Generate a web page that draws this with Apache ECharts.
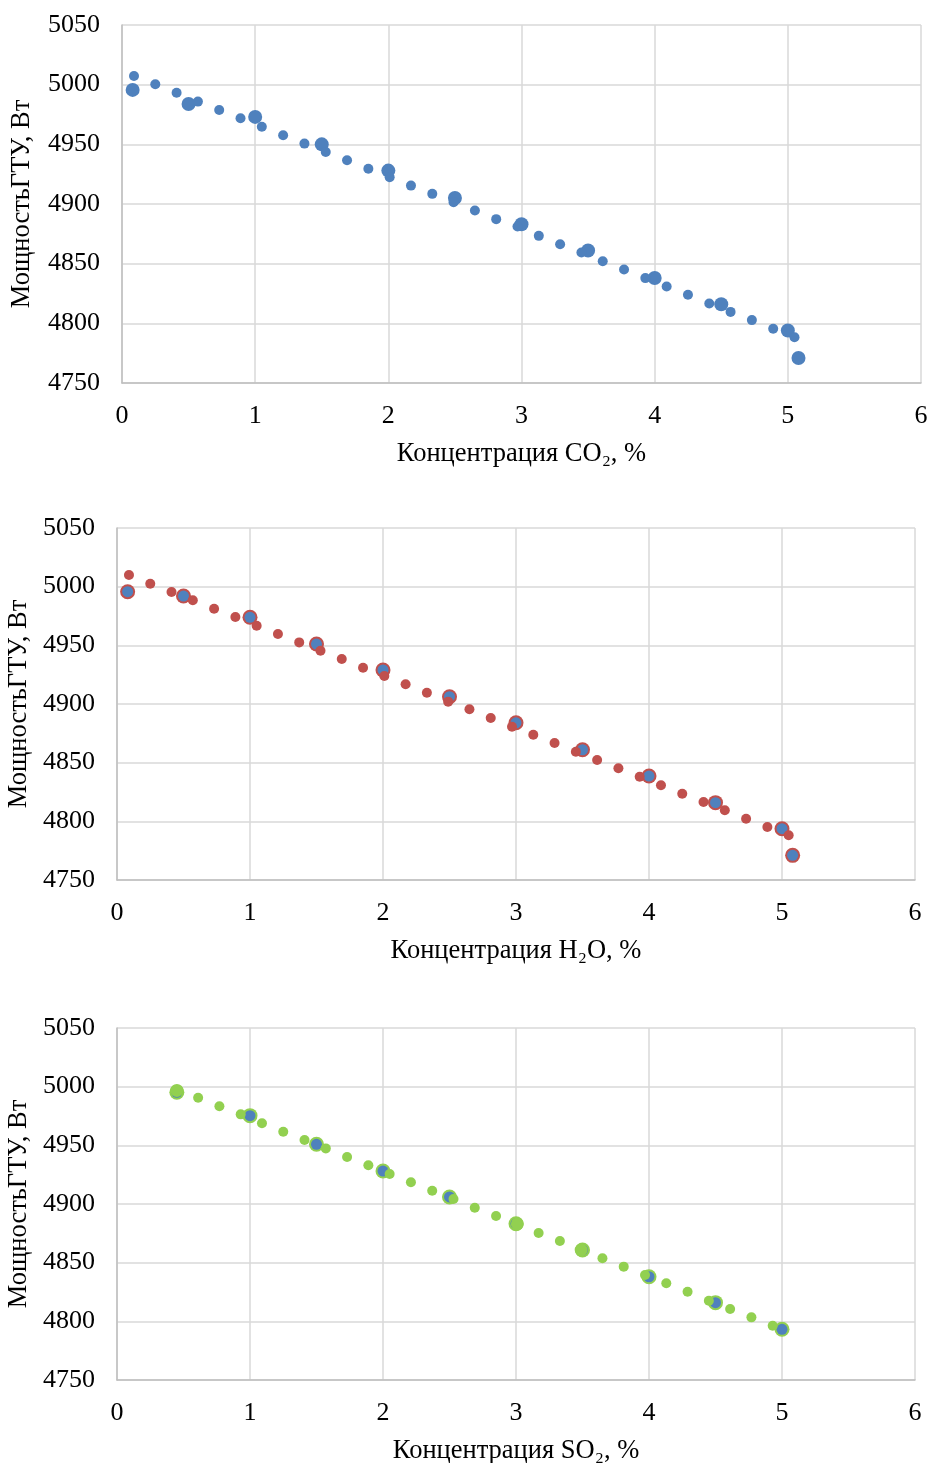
<!DOCTYPE html>
<html>
<head>
<meta charset="utf-8">
<script src="https://cdn.jsdelivr.net/npm/echarts@6/dist/echarts.min.js"></script>
<style>
  html, body { margin: 0; padding: 0; background: #fff; }
  #chart { width: 928px; height: 1463px; }
</style>
</head>
<body>
<div id="chart"></div>
<script>
// concentration steps of the fine series, %
var stepX = [0.09, 0.25, 0.41, 0.57, 0.73, 0.89, 1.05, 1.21, 1.37, 1.53, 1.69, 1.85, 2.01, 2.17, 2.33, 2.49,
             2.65, 2.81, 2.97, 3.13, 3.29, 3.45, 3.61, 3.77, 3.93, 4.09, 4.25, 4.41, 4.57, 4.73, 4.89, 5.05];
var co2Y  = [5007.3, 5000.3, 4993.3, 4985.8, 4978.8, 4971.9, 4964.8, 4957.6, 4950.6, 4943.6, 4936.7, 4929.6, 4922.4, 4915.4, 4908.5, 4901.5,
             4894.5, 4887.3, 4881.1, 4873.3, 4866.3, 4859.3, 4852.1, 4845.1, 4837.9, 4830.8, 4823.9, 4816.6, 4809.6, 4802.7, 4795.4, 4788.4];
var h2oY  = [5009.9, 5002.5, 4995.5, 4988.4, 4981.2, 4974.1, 4966.7, 4959.6, 4952.5, 4945.4, 4938.3, 4930.9, 4923.8, 4916.8, 4909.6, 4902.0,
             4895.5, 4888.1, 4880.6, 4873.8, 4866.8, 4859.3, 4852.3, 4845.2, 4838.0, 4830.7, 4823.5, 4816.5, 4809.4, 4802.2, 4795.2, 4788.1];

// base (large marker) series
var baseX    = [0.08, 0.5, 1.0, 1.5, 2.0, 2.5, 3.0, 3.5, 4.0, 4.5, 5.0, 5.08];
var baseCo2Y = [4995.6, 4983.8, 4973.0, 4950.0, 4928.0, 4905.0, 4883.0, 4861.0, 4838.0, 4816.0, 4794.0, 4771.0];
var baseH2oY = [4995.7, 4992.0, 4973.9, 4951.1, 4929.0, 4906.2, 4884.0, 4861.0, 4838.6, 4815.9, 4793.7, 4771.0];

var so2BaseX = [0.45, 1.0, 1.5, 2.0, 2.5, 3.0, 3.5, 4.0, 4.5, 5.0];
var so2BaseY = [4995.2, 4975.3, 4950.9, 4928.1, 4906.0, 4883.2, 4860.8, 4838.0, 4815.9, 4793.2];

var so2X = [0.45, 0.61, 0.77, 0.93, 1.09, 1.25, 1.41, 1.57, 1.73, 1.89, 2.05, 2.21, 2.37, 2.53, 2.69,
            2.85, 3.01, 3.17, 3.33, 3.49, 3.65, 3.81, 3.97, 4.13, 4.29, 4.45, 4.61, 4.77, 4.93];
var so2Y = [4996.8, 4990.6, 4983.3, 4976.4, 4968.8, 4961.6, 4954.5, 4947.4, 4940.1, 4933.0, 4925.6, 4918.5, 4911.3, 4904.3, 4896.8,
            4889.8, 4883.0, 4875.3, 4868.5, 4860.8, 4853.7, 4846.6, 4839.5, 4832.4, 4825.2, 4817.6, 4810.5, 4803.4, 4796.3];

var xTicks = ['0', '1', '2', '3', '4', '5', '6'];
var yTicks = ['4750', '4800', '4850', '4900', '4950', '5000', '5050'];
var xNames = ['Концентрация CO₂, %', 'Концентрация H₂O, %', 'Концентрация SO₂, %'];
var yName = 'МощностьГТУ, Вт';

var BLUE = '#4F81BD', RED = '#C0504D', GREEN = '#92D050';
var FONT = 'Liberation Serif';

function pts(xs, ys) {
    return xs.map(function (x, i) { return [x, ys[i]]; });
}

var grids = [
    {left: 122, top: 25, width: 799, height: 358, outerBoundsMode: 'none', containLabel: false},
    {left: 117, top: 528, width: 798, height: 352, outerBoundsMode: 'none', containLabel: false},
    {left: 117, top: 1028, width: 798, height: 352, outerBoundsMode: 'none', containLabel: false}
];
var yNameGaps = [86, 83, 83];

var xAxes = [], yAxes = [];
grids.forEach(function (g, i) {
    xAxes.push({
        gridIndex: i, type: 'value', min: 0, max: 6, interval: 1,
        name: xNames[i], nameLocation: 'middle', nameGap: 58,
        nameTextStyle: {fontFamily: FONT, fontSize: 26.5, color: '#000'},
        axisLine: {show: true, lineStyle: {color: '#BFBFBF', width: 1.5}},
        axisTick: {show: false},
        axisLabel: {
            fontFamily: FONT, fontSize: 26, color: '#000', margin: 20,
            formatter: function (v) { return xTicks[Math.round(v)]; }
        },
        splitLine: {show: true, lineStyle: {color: '#D9D9D9', width: 1.5}}
    });
    yAxes.push({
        gridIndex: i, type: 'value', min: 4750, max: 5050, interval: 50,
        name: yName, nameLocation: 'middle', nameGap: yNameGaps[i],
        nameTextStyle: {fontFamily: FONT, fontSize: 26.5, color: '#000'},
        axisLine: {show: true, lineStyle: {color: '#BFBFBF', width: 1.5}},
        axisTick: {show: false},
        axisLabel: {
            fontFamily: FONT, fontSize: 26, color: '#000', margin: 22,
            formatter: function (v) { return yTicks[Math.round((v - 4750) / 50)]; }
        },
        splitLine: {show: true, lineStyle: {color: '#D9D9D9', width: 1.5}}
    });
});

function sc(idx, data, color, size) {
    return {
        type: 'scatter', xAxisIndex: idx, yAxisIndex: idx,
        data: data, symbolSize: size,
        itemStyle: {color: color, opacity: 1},
        emphasis: {disabled: true}, animation: false
    };
}

var so2BigIdx = [0, 16, 19];

option = {
    backgroundColor: '#fff',
    animation: false,
    grid: grids,
    xAxis: xAxes,
    yAxis: yAxes,
    series: [
        // CO2
        sc(0, pts(baseX, baseCo2Y), BLUE, 14),
        sc(0, pts(stepX, co2Y), BLUE, 10),
        // H2O
        sc(1, pts(baseX, baseH2oY), RED, 15),
        sc(1, pts(baseX, baseH2oY), BLUE, 11),
        sc(1, pts(stepX, h2oY), RED, 10),
        // SO2
        sc(2, pts(so2BaseX, so2BaseY), GREEN, 15),
        sc(2, pts(so2BaseX, so2BaseY), BLUE, 11),
        sc(2, pts(so2X, so2Y), GREEN, function (v, p) {
            return so2BigIdx.indexOf(p.dataIndex) >= 0 ? 13 : 10;
        })
    ]
};

var chart = echarts.init(document.getElementById('chart'));
chart.setOption(option);
</script>
</body>
</html>
